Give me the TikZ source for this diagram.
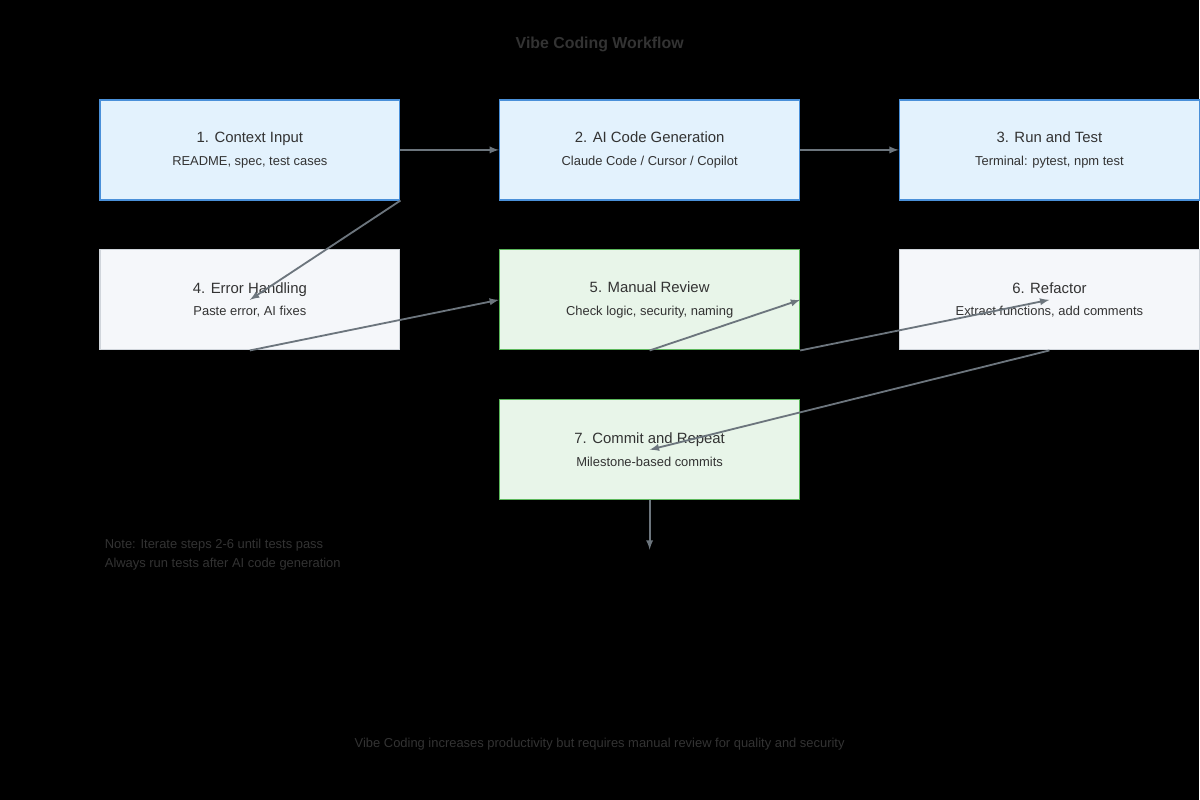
\documentclass[tikz,border=0pt]{standalone}
\usepackage{fontspec}
\setmainfont{Liberation Sans}
\usetikzlibrary{positioning}
\definecolor{bluefill}{HTML}{E3F2FD}
\definecolor{blueline}{HTML}{4A90D9}
\definecolor{grayfill}{HTML}{F5F7FA}
\definecolor{grayline}{HTML}{D0D5DB}
\definecolor{greenfill}{HTML}{E8F5E9}
\definecolor{greenline}{HTML}{5CB85C}
\definecolor{arrowgray}{HTML}{6C757D}
\definecolor{txt}{HTML}{333333}
\tikzset{
  stage box/.style = {draw, line width = 0.9pt, minimum width = 7.5cm, minimum height = 2.5cm, align = center},
  blue box/.style = {stage box, fill = bluefill, draw = blueline},
  gray box/.style = {stage box, fill = grayfill, draw = grayline},
  green box/.style = {stage box, fill = greenfill, draw = greenline},
  flow/.style = {draw = arrowgray, line width = 1.3pt, -latex}
}
\newcommand{\steptext}[2]{\fontsize{10.6}{13}\selectfont #1\\[4pt]\fontsize{9.2}{11}\selectfont #2}
\begin{document}
\begin{tikzpicture}[x = 0.025cm, y = -0.025cm, every node/.style = {text = txt}]
  \fill[black] (0, 0) rectangle (1200, 800);

  \node[font = \bfseries\fontsize{11.3}{13}\selectfont] (title) at (600, 44) {Vibe Coding Workflow};

  \node[blue box] (ctx) at (250, 150) {\steptext{1. Context Input}{README, spec, test cases}};
  \node[blue box] (gen) at (650, 150) {\steptext{2. AI Code Generation}{Claude Code / Cursor / Copilot}};
  \node[blue box] (run) at (1050, 150) {\steptext{3. Run and Test}{Terminal: pytest, npm test}};
  \node[gray box] (err) at (250, 300) {\steptext{4. Error Handling}{Paste error, AI fixes}};
  \node[green box] (rev) at (650, 300) {\steptext{5. Manual Review}{Check logic, security, naming}};
  \node[gray box] (ref) at (1050, 300) {\steptext{6. Refactor}{Extract functions, add comments}};
  \node[green box] (com) at (650, 450) {\steptext{7. Commit and Repeat}{Milestone-based commits}};

  \coordinate (end) at (650, 550);

  \draw[flow] (ctx.east) -- (gen.west);
  \draw[flow] (gen.east) -- (run.west);
  \draw[flow] (ctx.south east) -- (err.center);
  \draw[flow] (err.south) -- (rev.west);
  \draw[flow] (rev.south) -- (rev.east);
  \draw[flow] (rev.south east) -- (ref.center);
  \draw[flow] (ref.south) -- (com.center);
  \draw[flow] (com.south) -- (end);

  \node[anchor = west, align = left, font = \fontsize{9.2}{14}\selectfont] (note) at (100, 555)
    {Note: Iterate steps 2-6 until tests pass\\Always run tests after AI code generation};
  \node[font = \fontsize{9.2}{11}\selectfont] (footer) at (600, 745)
    {Vibe Coding increases productivity but requires manual review for quality and security};
\end{tikzpicture}
\end{document}
